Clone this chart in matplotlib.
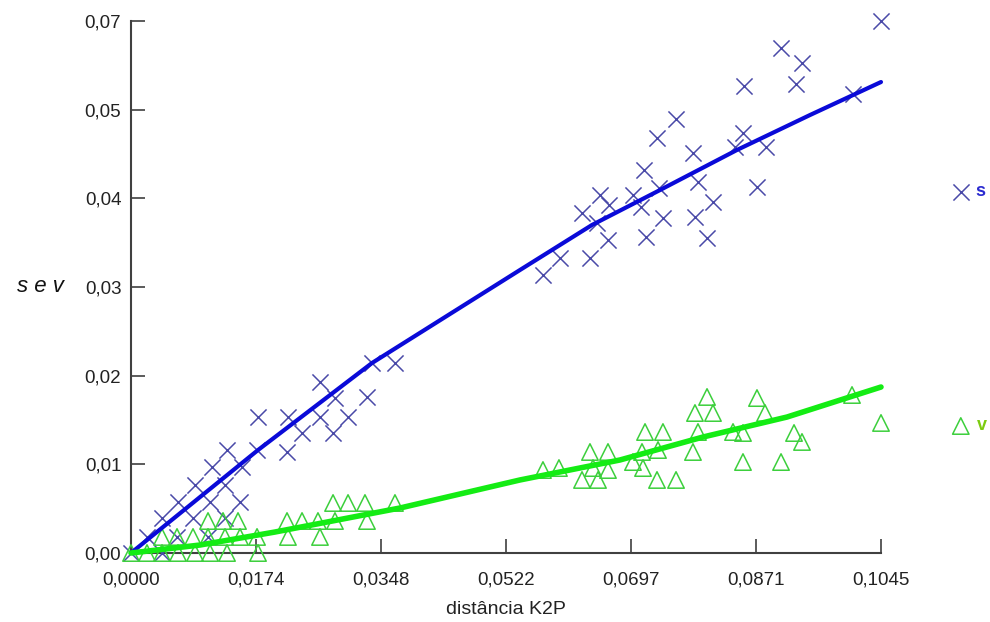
import matplotlib
matplotlib.use("Agg")
import matplotlib.pyplot as plt
import numpy as np

plt.rcParams['font.family'] = ['Liberation Sans', 'DejaVu Sans']

# ---- data ----
s_x = [0.0000, 0.00223, 0.00432, 0.00432, 0.00641, 0.00655, 0.00864, 0.00892, 0.01073, 0.01101,
       0.01129, 0.01310, 0.01310, 0.01338, 0.01519, 0.01547, 0.01756, 0.01770, 0.02174, 0.02187,
       0.02383, 0.02633, 0.02633, 0.02815, 0.02842, 0.03024, 0.03288, 0.03358, 0.03678,
       0.05740, 0.05977, 0.06395, 0.06284, 0.06493, 0.06535, 0.06646, 0.06660, 0.06994, 0.07106,
       0.07148, 0.07175, 0.07329, 0.07357, 0.07412, 0.07594, 0.07830, 0.07858, 0.07900, 0.08026,
       0.08109, 0.08416, 0.08527, 0.08541, 0.08722, 0.08848, 0.09057, 0.09266, 0.09349, 0.10060,
       0.10450]
s_y = [0.0000, 0.00211, 0.0000, 0.00461, 0.00211, 0.00671, 0.00461, 0.00895, 0.00211, 0.00671,
       0.01132, 0.00895, 0.00461, 0.01355, 0.00671, 0.01132, 0.01355, 0.01789, 0.01329, 0.01789,
       0.01579, 0.02250, 0.01789, 0.01579, 0.02039, 0.01789, 0.02053, 0.02500, 0.02500,
       0.03658, 0.03882, 0.03882, 0.04474, 0.04342, 0.04711, 0.04118, 0.04579, 0.04711, 0.04553,
       0.05039, 0.04158, 0.05461, 0.04803, 0.04408, 0.05711, 0.05263, 0.04421, 0.04882, 0.04145,
       0.04618, 0.05342, 0.05526, 0.06145, 0.04816, 0.05342, 0.06645, 0.06171, 0.06447, 0.06039,
       0.07000]

v_x = [0.0000, 0.00223, 0.00432, 0.00655, 0.00892, 0.01101, 0.01338, 0.01770,
       0.00432, 0.00641, 0.00864, 0.01073, 0.01310, 0.01519, 0.01756, 0.02187, 0.02633,
       0.01073, 0.01282, 0.01491, 0.02174, 0.02383, 0.02605, 0.02842, 0.03288,
       0.02815, 0.03024, 0.03260, 0.03678,
       0.05740, 0.05963, 0.06284, 0.06507, 0.06395, 0.06437, 0.06646, 0.06646, 0.06994, 0.07120,
       0.07134, 0.07162, 0.07412, 0.07343, 0.07329, 0.07594, 0.07830, 0.07858, 0.07900, 0.08026,
       0.08109, 0.08388, 0.08527, 0.08527, 0.08722, 0.08834, 0.09057, 0.09238, 0.09349, 0.10046,
       0.10450]
v_y = [0.0, 0.0, 0.0, 0.0, 0.0, 0.0, 0.0, 0.0,
       0.00211, 0.00211, 0.00211, 0.00211, 0.00211, 0.00211, 0.00211, 0.00211, 0.00211,
       0.00421, 0.00421, 0.00421, 0.00421, 0.00421, 0.00421, 0.00421, 0.00421,
       0.00658, 0.00658, 0.00658, 0.00658,
       0.01092, 0.01118, 0.00961, 0.00961, 0.01329, 0.01118, 0.01329, 0.01092, 0.01197, 0.01329,
       0.01118, 0.01592, 0.01592, 0.01355, 0.00961, 0.00961, 0.01329, 0.01842, 0.01592, 0.02053,
       0.01842, 0.01592, 0.01579, 0.01197, 0.02039, 0.01842, 0.01197, 0.01579, 0.01461, 0.02079,
       0.01711]

s_fit_x = [0.0, 0.01770, 0.03358, 0.05420, 0.06423, 0.07371, 0.08443, 0.09461, 0.1045]
s_fit_y = [0.0, 0.01355, 0.02500, 0.03724, 0.04316, 0.04776, 0.05303, 0.05763, 0.06197]
v_fit_x = [0.0, 0.00961, 0.02006, 0.03748, 0.05420, 0.06813, 0.07970, 0.09140, 0.1045]
v_fit_y = [0.0, 0.00105, 0.00276, 0.00592, 0.00961, 0.01224, 0.01526, 0.01789, 0.02184]

x_max = 0.1045
y_max = 0.07
x_tick_labels = ['0,0000', '0,0174', '0,0348', '0,0522', '0,0697', '0,0871', '0,1045']
y_tick_labels = ['0,00', '0,01', '0,02', '0,03', '0,04', '0,05', '0,07']
series_labels = ['s', 'v']

# ---- plot ----
fig = plt.figure(figsize=(9.9, 6.22), dpi=100)
ax = fig.add_axes([131/990, 69/622, 750/990, 532/622])

blue_mk = '#4a4aa8'
green_mk = '#3ccf3c'
ax.scatter(s_x, s_y, marker='x', s=135, linewidths=1.1, color=blue_mk, clip_on=False, zorder=3)
ax.scatter(v_x, v_y, marker='^', s=140, facecolors='none', edgecolors=green_mk,
           linewidths=1.1, clip_on=False, zorder=3)
ax.plot(s_fit_x, s_fit_y, color='#0a0ad8', lw=3, zorder=4, clip_on=False, solid_capstyle='round')
ax.plot(v_fit_x, v_fit_y, color='#14ec14', lw=4, zorder=4, clip_on=False, solid_capstyle='round')

ax.set_xlim(0, x_max)
ax.set_ylim(0, y_max)
ax.set_xticks(np.linspace(0, x_max, 7))
ax.set_xticklabels(x_tick_labels)
ax.set_yticks(np.linspace(0, y_max, 7))
ax.set_yticklabels(y_tick_labels)
for sp in ['top', 'right']:
    ax.spines[sp].set_visible(False)
for sp in ['left', 'bottom']:
    ax.spines[sp].set_color('#404040')
    ax.spines[sp].set_linewidth(1.5)
ax.tick_params(direction='in', length=10, width=1.2, color='#404040',
               labelsize=13.5, labelcolor='#222222')
ax.tick_params(axis='x', pad=13)
ax.tick_params(axis='y', pad=7)

ax.set_xlabel('distância K2P', fontsize=14, color='#222222', labelpad=9)
fig.text(40/990, 1 - 287/622, 's e v', fontsize=16, style='italic', color='#111111',
         ha='center', va='center')

# legend entries at right
ax.scatter([1.1064], [1 - (192 - 21) / 532], marker='x', s=135, linewidths=1.1, color=blue_mk,
           transform=ax.transAxes, clip_on=False)
ax.text(1.1254, 1 - (192 - 21) / 532, series_labels[0], transform=ax.transAxes, fontsize=13,
        color='#2a2ad0', va='center', ha='left', fontweight='bold')
ax.scatter([1.1064], [1 - (426 - 21) / 532], marker='^', s=140, facecolors='none',
           edgecolors=green_mk, linewidths=1.1, transform=ax.transAxes, clip_on=False)
ax.text(1.1274, 1 - (426 - 21) / 532, series_labels[1], transform=ax.transAxes, fontsize=13,
        color='#7ccc10', va='center', ha='left', fontweight='bold')

fig.savefig('out.png', dpi=100)
